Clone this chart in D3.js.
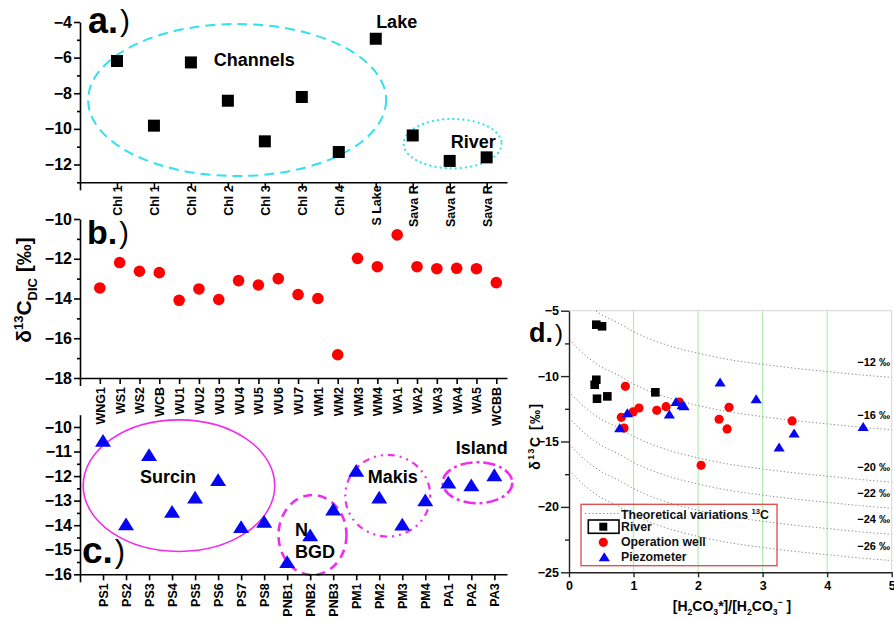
<!DOCTYPE html>
<html><head><meta charset="utf-8">
<script src="https://cdn.jsdelivr.net/npm/d3@7"></script>
<style>
body{margin:0;background:#fff;}
svg{display:block;font-family:"Liberation Sans",Arial,sans-serif;}
</style></head><body>
<svg id="chart" width="894" height="621"></svg>
<script>
// ---------------- data ----------------
const aLabels = ["Chl 1","Chl 1","Chl 2","Chl 2","Chl 3","Chl 3","Chl 4","S Lake","Sava R","Sava R","Sava R"];
const aValues = [-6.19,-9.82,-6.27,-8.42,-10.7,-8.21,-11.3,-4.94,-10.37,-11.8,-11.6];
const aTicks = [-12,-10,-8,-6,-4];
const aMinor = [-13,-11,-9,-7,-5];

const bLabels = ["WNG1","WS1","WS2","WCB","WU1","WU2","WU3","WU4","WU5","WU6","WU7","WM1","WM2","WM3","WM4","WA1","WA2","WA3","WA4","WA5","WCBB"];
const bValues = [-13.47,-12.19,-12.63,-12.7,-14.09,-13.52,-14.05,-13.1,-13.32,-13.0,-13.8,-14.0,-16.83,-11.98,-12.4,-10.8,-12.4,-12.5,-12.48,-12.5,-13.2];
const bTicks = [-18,-16,-14,-12,-10];
const bMinor = [-17,-15,-13,-11];

const cLabels = ["PS1","PS2","PS3","PS4","PS5","PS6","PS7","PS8","PNB1","PNB2","PNB3","PM1","PM2","PM3","PM4","PA1","PA2","PA3"];
const cValues = [-10.55,-13.95,-11.13,-13.44,-12.86,-12.15,-14.06,-13.85,-15.49,-14.4,-13.35,-11.77,-12.86,-13.96,-12.97,-12.25,-12.36,-11.95];
const cTicks = [-16,-15,-14,-13,-12,-11,-10];
const cMinor = [-15.5,-14.5,-13.5,-12.5,-11.5,-10.5];

const dTicksX = [0,1,2,3,4,5];
const dTicksY = [-25,-20,-15,-10,-5];
const dMinorY = [-22.5,-17.5,-12.5,-7.5];
const riverX = [0.423,0.512,0.423,0.398,0.434,0.594,1.338];
const riverY = [-6.07,-6.19,-10.28,-10.66,-11.73,-11.55,-11.24];
const wellX = [0.873,0.811,0.853,0.992,1.085,1.36,1.504,1.71,2.047,2.326,2.45,2.48,3.457];
const wellY = [-10.78,-13.15,-13.97,-12.74,-12.44,-12.62,-12.34,-11.98,-16.82,-13.3,-14.04,-12.39,-13.43];
const piezoX = [0.786,0.904,1.555,1.659,1.752,1.783,2.341,2.9,3.256,3.488,4.558];
const piezoY = [-13.97,-12.82,-12.92,-11.96,-12.21,-12.29,-10.47,-11.75,-15.44,-14.37,-13.87];

const curveR = [0,0.25,0.5,0.75,1,1.5,2,2.5,3,3.5,4,4.5,5];
const curveLabels = ["-12 ‰","-16 ‰","-20 ‰","-22 ‰","-24 ‰","-26 ‰"];
const curve12 = [-3.2,-4.4,-5.3,-5.9,-6.6,-7.6,-8.25,-8.75,-9.1,-9.4,-9.65,-9.9,-10.1];
const curve16 = [-7.2,-8.4,-9.3,-9.9,-10.6,-11.6,-12.25,-12.75,-13.1,-13.4,-13.65,-13.9,-14.1];
const curve20 = [-11.2,-12.4,-13.3,-13.9,-14.6,-15.6,-16.25,-16.75,-17.1,-17.4,-17.65,-17.9,-18.1];
const curve22 = [-13.2,-14.4,-15.3,-15.9,-16.6,-17.6,-18.25,-18.75,-19.1,-19.4,-19.65,-19.9,-20.1];
const curve24 = [-15.2,-16.4,-17.3,-17.9,-18.6,-19.6,-20.25,-20.75,-21.1,-21.4,-21.65,-21.9,-22.1];
const curve26 = [-17.2,-18.4,-19.3,-19.9,-20.6,-21.6,-22.25,-22.75,-23.1,-23.4,-23.65,-23.9,-24.1];
const curves = [curve12,curve16,curve20,curve22,curve24,curve26];
const legendLabels = ["Theoretical variations ","River","Operation well","Piezometer"];

// ---------------- helpers ----------------
const svg = d3.select("#chart");
svg.append("rect").attr("width",894).attr("height",621).attr("fill","#fff");
const FONT = "'Liberation Sans',Arial,sans-serif";
const fmt = d3.format("d");

function rich(sel, parts, size){
  let shift = 0;
  parts.forEach(p=>{
    const target = p.s==="sub" ? size*0.28 : p.s==="sup" ? -size*0.4 : 0;
    sel.append("tspan").attr("dy", target-shift).attr("font-size", p.s ? size*0.62 : size).text(p.t);
    shift = target;
  });
}

function yAxis(g, y, ticks, minor, size, pad, fontSize, f){
  g.call(d3.axisLeft(y).tickValues(ticks).tickSize(size).tickPadding(pad).tickSizeOuter(0).tickFormat(f||fmt));
  g.append("g").call(d3.axisLeft(y).tickValues(minor).tickSize(size/2).tickFormat("").tickSizeOuter(0))
    .call(s=>s.select(".domain").remove());
  g.selectAll("text").attr("font-family",FONT).attr("font-size",fontSize).attr("font-weight","bold").attr("fill","#000");
  g.selectAll("path,line").attr("stroke","#000").attr("stroke-width",1.6);
}

function catAxis(g, x, labels, gap){
  g.call(d3.axisBottom(x).tickValues(d3.range(0,labels.length+1)).tickSize(6).tickSizeOuter(0)
    .tickFormat(i=> i===0 ? "" : labels[i-1]));
  g.selectAll(".tick").filter(d=>d===0).select("line").attr("y2",8);
  g.selectAll(".tick text").attr("transform","rotate(-90)").attr("text-anchor","end")
    .attr("x",-gap).attr("y",0).attr("dy","0.36em")
    .attr("font-family",FONT).attr("font-size",12.5).attr("font-weight","bold").attr("fill","#000");
  g.selectAll("path,line").attr("stroke","#000").attr("stroke-width",1.6);
}

function panelLabel(x, y, letter, size, psize){
  const t = svg.append("text").attr("x",x).attr("y",y).attr("font-family",FONT).attr("fill","#000");
  t.append("tspan").attr("font-size",size).attr("font-weight","bold").text(letter+".");
  t.append("tspan").attr("font-size",psize).attr("font-weight","normal").attr("dx",2).attr("dy",-size*0.04).text(")");
}

function note(x, y, txt){
  svg.append("text").attr("x",x).attr("y",y).attr("font-family",FONT).attr("font-size",18)
    .attr("font-weight","bold").attr("fill","#000").text(txt);
}

// ---------------- panel a ----------------
const xA = d3.scaleLinear().domain([0,11.55]).range([80,507]);
const yA = d3.scaleLinear().domain([-13,-4]).range([182.3,22]);
const CYAN = "#2fe2ee";
svg.append("ellipse").attr("cx",xA(4.25)).attr("cy",yA(-8.38)).attr("rx",149).attr("ry",76)
  .attr("fill","none").attr("stroke",CYAN).attr("stroke-width",2).attr("stroke-dasharray","10,6");
svg.append("ellipse").attr("cx",xA(10.08)).attr("cy",yA(-10.83)).attr("rx",49).attr("ry",24.7)
  .attr("fill","none").attr("stroke",CYAN).attr("stroke-width",2.2).attr("stroke-dasharray","0.1,5").attr("stroke-linecap","round");
yAxis(svg.append("g").attr("transform","translate(80,0)"), yA, aTicks, aMinor, 6, 2, 16);
catAxis(svg.append("g").attr("transform","translate(0,182.3)"), xA, aLabels, 3);
svg.append("g").selectAll("rect").data(aValues).join("rect")
  .attr("x",(d,i)=>xA(i+1)-6).attr("y",d=>yA(d)-6).attr("width",12).attr("height",12).attr("fill","#000");
note(xA(3.62), yA(-6.45), "Channels");
note(xA(8.01), yA(-4.34), "Lake");
note(xA(10.03), yA(-11.06), "River");
panelLabel(88, 32.5, "a", 36, 30);

// ---------------- panel b ----------------
const xB = d3.scaleLinear().domain([0,21.54]).range([80,507]);
const yB = d3.scaleLinear().domain([-18,-10]).range([378,219]);
yAxis(svg.append("g").attr("transform","translate(80,0)"), yB, bTicks, bMinor, 6, 2, 16);
catAxis(svg.append("g").attr("transform","translate(0,378)"), xB, bLabels, 9);
svg.append("g").selectAll("circle").data(bValues).join("circle")
  .attr("cx",(d,i)=>xB(i+1)).attr("cy",d=>yB(d)).attr("r",5.8).attr("fill","#ff0000");
panelLabel(87, 244, "b", 34, 29);
{
  const t = svg.append("text").attr("transform","translate(31,290) rotate(-90)").attr("text-anchor","middle")
    .attr("font-family",FONT).attr("font-weight","bold").attr("fill","#000");
  rich(t, [{t:"δ"},{t:"13",s:"sup"},{t:"C"},{t:"DIC",s:"sub"},{t:" [‰]"}], 21);
}

// ---------------- panel c ----------------
const xC = d3.scaleLinear().domain([0,18.55]).range([80,507]);
const yC = d3.scaleLinear().domain([-16,-9.5]).range([574.3,414.7]);
const MAG = "#ef2ded";
function ell(cx, cy, rx, ry, dash, w){
  svg.append("ellipse").attr("cx",xC(cx)).attr("cy",yC(cy)).attr("rx",rx).attr("ry",ry)
    .attr("fill","none").attr("stroke",MAG).attr("stroke-width",w).attr("stroke-dasharray",dash);
}
ell(4.30,-12.39,95.8,65.8,null,1.6);
ell(10.10,-14.4,34,40,"9,6",2.6);
ell(13.37,-12.80,42.5,40.8,"2,5,2,5,7,5",2.2);
ell(17.27,-12.27,34.8,20.5,"12,4,3,4",2.6);
yAxis(svg.append("g").attr("transform","translate(80,0)"), yC, cTicks, cMinor, 6, 2, 16);
catAxis(svg.append("g").attr("transform","translate(0,574.3)"), xC, cLabels, 9);
svg.append("g").selectAll("path").data(cValues).join("path")
  .attr("transform",(d,i)=>`translate(${xC(i+1)},${yC(d)})`)
  .attr("d","M0,-6.5L8,6.3L-8,6.3Z").attr("fill","#0606f0");
note(xC(2.61), yC(-12.27), "Surcin");
note(xC(12.5), yC(-12.29), "Makis");
note(xC(16.32), yC(-11.11), "Island");
note(xC(9.34), yC(-14.44), "N");
note(xC(9.34), yC(-15.32), "BGD");
panelLabel(82, 563, "c", 37, 31);

// ---------------- panel d ----------------
const xD = d3.scaleLinear().domain([0,5]).range([569,891.7]);
const yD = d3.scaleLinear().domain([-25,-5]).range([572.3,310.7]);
const clip = svg.append("clipPath").attr("id","dclip").append("rect")
  .attr("x",569).attr("y",310.7).attr("width",322.7).attr("height",261.6);
// frame
svg.append("line").attr("x1",569).attr("x2",891.7).attr("y1",310.7).attr("y2",310.7).attr("stroke","#d6d6d6").attr("stroke-width",1);
svg.append("line").attr("x1",891.7).attr("x2",891.7).attr("y1",310.7).attr("y2",572.3).attr("stroke","#d6d6d6").attr("stroke-width",1);
// green grid
svg.append("g").selectAll("line").data([1,2,3,4]).join("line")
  .attr("x1",d=>xD(d)).attr("x2",d=>xD(d)).attr("y1",310.7).attr("y2",572.3)
  .attr("stroke","#b2eeb2").attr("stroke-width",1.2);
// curves
const line = d3.line().x((d,i)=>xD(curveR[i])).y(d=>yD(d)).curve(d3.curveMonotoneX);
svg.append("g").attr("clip-path","url(#dclip)").selectAll("path").data(curves).join("path")
  .attr("d",line).attr("fill","none").attr("stroke","#8a8a8a").attr("stroke-width",1)
  .attr("stroke-dasharray","1.3,2.3");
svg.append("g").selectAll("text").data(curves).join("text")
  .attr("x",890).attr("y",d=>yD(d[d.length-1])-11).attr("text-anchor","end")
  .attr("font-family",FONT).attr("font-size",11).attr("font-weight","bold").attr("fill","#000")
  .text((d,i)=>curveLabels[i].replace("-","−"));
// axes
{
  const gy = svg.append("g").attr("transform","translate(569,0)");
  yAxis(gy, yD, dTicksY, dMinorY, 8, 2, 12.5);
  gy.selectAll("path,line").attr("stroke","#222").attr("stroke-width",1.4);
  const gx = svg.append("g").attr("transform","translate(0,572.3)");
  gx.call(d3.axisBottom(xD).tickValues(dTicksX).tickSize(5).tickPadding(4).tickSizeOuter(0).tickFormat(fmt));
  gx.selectAll("text").attr("font-family",FONT).attr("font-size",12.5).attr("font-weight","bold").attr("fill","#000");
  gx.selectAll("path,line").attr("stroke","#222").attr("stroke-width",1.4);
}
// points
svg.append("g").selectAll("rect").data(riverY).join("rect")
  .attr("x",(d,i)=>xD(riverX[i])-4.3).attr("y",d=>yD(d)-4.3).attr("width",8.6).attr("height",8.6).attr("fill","#000");
svg.append("g").selectAll("circle").data(wellY).join("circle")
  .attr("cx",(d,i)=>xD(wellX[i])).attr("cy",d=>yD(d)).attr("r",4.6).attr("fill","#ff0000");
svg.append("g").selectAll("path").data(piezoY).join("path")
  .attr("transform",(d,i)=>`translate(${xD(piezoX[i])},${yD(d)})`)
  .attr("d","M0,-4.8L5.6,4.2L-5.6,4.2Z").attr("fill","#0606f0");
// legend
{
  const lg = svg.append("g");
  lg.append("rect").attr("x",581).attr("y",504.3).attr("width",196).attr("height",61.4)
    .attr("fill","none").attr("stroke","#e04848").attr("stroke-width",1.3);
  lg.append("line").attr("x1",585).attr("x2",620).attr("y1",513.5).attr("y2",513.5)
    .attr("stroke","#8a8a8a").attr("stroke-dasharray","1.3,2.3");
  const baselines = [519,531,545.7,560.7];
  legendLabels.forEach((lab,i)=>{
    const t = lg.append("text").attr("x",621).attr("y",baselines[i]).attr("font-family",FONT)
      .attr("font-weight","bold").attr("fill","#111");
    if(i===0) rich(t,[{t:lab},{t:"13",s:"sup"},{t:"C"}],12.3);
    else t.attr("font-size",12.3).text(lab);
  });
  lg.append("rect").attr("x",588.3).attr("y",520).attr("width",30.7).attr("height",13.3)
    .attr("fill","none").attr("stroke","#000").attr("stroke-width",1.6);
  lg.append("rect").attr("x",603.3-4).attr("y",526.7-4).attr("width",8).attr("height",8).attr("fill","#000");
  lg.append("circle").attr("cx",603.3).attr("cy",542.3).attr("r",4.6).attr("fill","#ff0000");
  lg.append("path").attr("transform","translate(604.3,557)").attr("d","M0,-4.8L5.6,4.2L-5.6,4.2Z").attr("fill","#0606f0");
}
// axis titles
{
  const t = svg.append("text").attr("transform","translate(540,436) rotate(-90)").attr("text-anchor","middle")
    .attr("font-family",FONT).attr("font-weight","bold").attr("fill","#000").attr("letter-spacing",1.5);
  rich(t,[{t:"δ"},{t:"13",s:"sup"},{t:"C [‰]"}],14);
  const u = svg.append("text").attr("x",732).attr("y",611).attr("text-anchor","middle")
    .attr("font-family",FONT).attr("font-weight","bold").attr("fill","#000");
  rich(u,[{t:"[H"},{t:"2",s:"sub"},{t:"CO"},{t:"3",s:"sub"},{t:"*]/[H"},{t:"2",s:"sub"},{t:"CO"},{t:"3",s:"sub"},{t:"−",s:"sup"},{t:" ]"}],14);
}
panelLabel(529, 342, "d", 27, 24);
</script>
</body></html>
